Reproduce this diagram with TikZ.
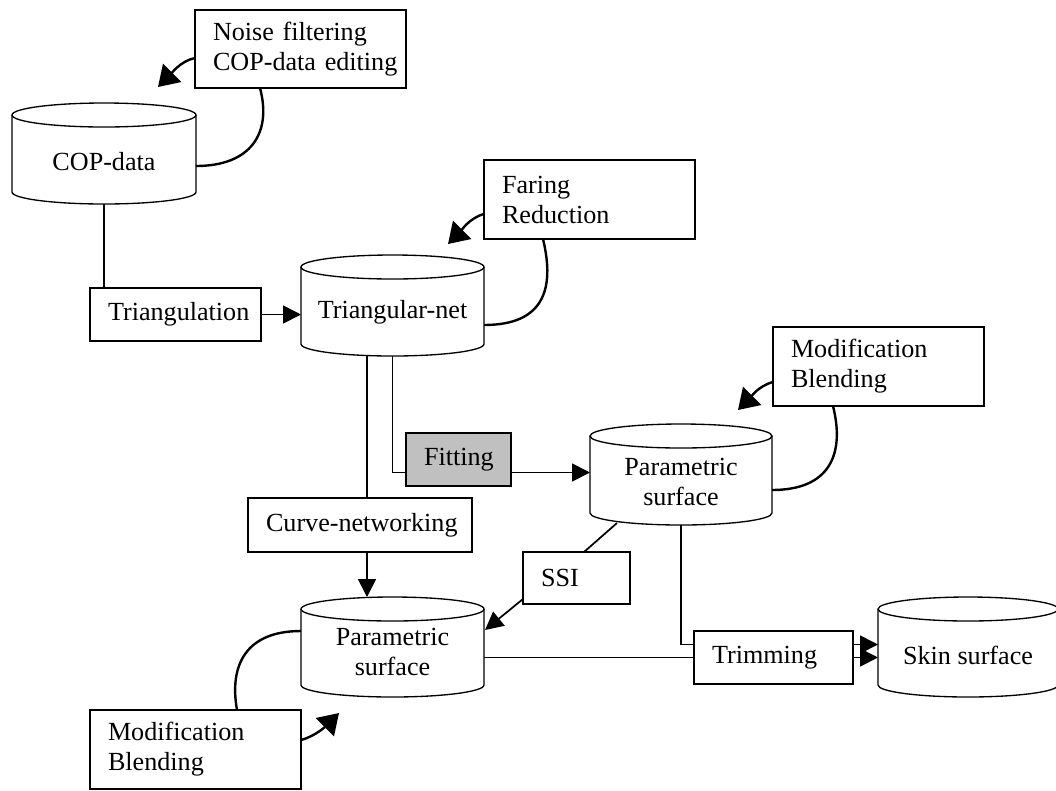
\documentclass[tikz,border=0pt]{standalone}
\usepackage{fontspec}
\setmainfont{Liberation Serif}
\usetikzlibrary{arrows.meta,calc}
\newcommand\drumshape[5]{%
  \node[drumbox, minimum width={(#4-#2)*0.75pt}, minimum height={(#5-#3)*0.75pt}] (#1) at ({(#2+#4)/2},{(#3+#5)/2}) {};
  \draw[drumline] ([yshift=-9pt]#1.north west) -- ([yshift=9pt]#1.south west) arc[start angle=180,end angle=360,x radius={(#4-#2)*0.375pt},y radius=9pt] -- ([yshift=-9pt]#1.north east);
  \draw[drumline] ([yshift=-9pt]#1.north) ellipse[x radius={(#4-#2)*0.375pt},y radius=9pt];
}
\tikzset{
  procbox/.style={draw, line width=1.2pt, anchor=north west, inner xsep=13.5pt, inner ysep=0pt, outer sep=0pt, align=left},
  drumbox/.style={rectangle, draw=none, inner sep=0pt, outer sep=0pt},
  drumline/.style={line width=1pt},
  drumtext/.style={align=center, inner sep=0pt},
  link/.style={line width=1.3pt},
  arr/.style={line width=1.3pt, -{Triangle[length=13.5pt,width=13.5pt]}},
  carr/.style={line width=1.8pt, -{Triangle[length=15pt,width=19pt]}},
  loopline/.style={line width=1.8pt},
}
\begin{document}
\begin{tikzpicture}[x=0.75pt, y=-0.75pt, font=\fontsize{19.6}{22.5}\selectfont]
\useasboundingbox (0,0) rectangle (1056,790);

% ---- cylinders
\drumshape{cop}{12}{103}{196}{204}
\drumshape{tnet}{301}{255}{484}{356}
\drumshape{param1}{590}{424}{772}{525}
\drumshape{param2}{301}{597}{484}{697}
\drumshape{skin}{878}{597}{1058}{697}
\node[drumtext] (copT) at ($(cop.center)+(0,8)$) {COP-data};
\node[drumtext] (tnetT) at ($(tnet.center)+(0,7)$) {Triangular-net};
\node[drumtext] (param1T) at ($(param1.center)+(0,7)$) {Parametric\\surface};
\node[drumtext] (param2T) at ($(param2.center)+(0,5)$) {Parametric\\surface};
\node[drumtext] (skinT) at ($(skin.center)+(0,8)$) {Skin surface};

% ---- process boxes
\node[procbox, text width=131.25pt, minimum height=58.5pt] (noise) at (195,10) {\mbox{Noise filtering}\\\mbox{COP-data editing}};
\node[procbox, text width=131.25pt, minimum height=59.25pt] (faring) at (484,160) {Faring\\Reduction};
\node[procbox, text width=131.25pt, minimum height=59.25pt] (modt) at (773,327) {Modification\\Blending};
\node[procbox, text width=131.25pt, minimum height=59.25pt] (modb) at (90,710) {Modification\\Blending};
\node[procbox, text width=101.25pt, minimum height=39.75pt] (triang) at (90,288) {Triangulation};
\node[procbox, fill={rgb,255:red,192;green,192;blue,192}, text width=51.75pt, minimum height=39.75pt] (fit) at (406,433) {\mbox{Fitting}};
\node[procbox, text width=141pt, minimum height=40.5pt] (cn) at (248,498) {\mbox{Curve-networking}};
\node[procbox, text width=53.25pt, minimum height=39pt] (ssi) at (523,552) {SSI};
\node[procbox, text width=92.25pt, minimum height=39.75pt] (trim) at (694,631) {Trimming};

% ---- free arrow tips
\coordinate (tipA) at (158,87);
\coordinate (tipB) at (448,244);
\coordinate (tipC) at (738,410);
\coordinate (tipD) at (339,713);

% ---- noise filtering loop
\draw[carr] ($(noise.west)+(0,9)$) .. controls +(-15,3) and +(12,-12) .. (tipA);
\draw[loopline] ($(noise.south)+(-40.5,0)$) .. controls +(12,45) and +(55,0) .. ($(cop.east)+(0,12.5)$);

% ---- cop -> triangulation -> triangular net
\draw[link] (cop.south) -- (cop.south |- triang.north);
\draw[arr] (triang.east) -- (triang.east -| tnet.west);

% ---- faring loop
\draw[carr] ($(faring.west)+(0,14.5)$) .. controls +(-15,4) and +(12,-12) .. (tipB);
\draw[loopline] ($(faring.south)+(-46.5,0)$) .. controls +(12,50) and +(60,0) .. ($(tnet.east)+(0,19.5)$);

% ---- triangular net -> curve networking -> parametric surface 2
\coordinate (cnTop) at ($(tnet.south)+(-25.5,0)$);
\draw[link] (cnTop) -- (cnTop |- cn.north);
\draw[arr] (cnTop |- cn.south) -- (cnTop |- param2.north);

% ---- triangular net -> fitting -> parametric surface 1
\coordinate (fitL) at ($(fit.west)+(0,13)$);
\coordinate (fitR) at ($(fit.east)+(0,13)$);
\draw[link] (tnet.south) |- (fitL);
\draw[arr] (fitR) -- (fitR -| param1.west);

% ---- modification loop (top)
\draw[carr] ($(modt.west)+(0,15.5)$) .. controls +(-15,4) and +(12,-12) .. (tipC);
\draw[loopline] ($(modt.south)+(-45.5,0)$) .. controls +(12,48) and +(58,0) .. ($(param1.east)+(0,15.5)$);

% ---- SSI
\draw[link] ($(param1.south)+(-64,-2)$) -- ($(ssi.north)+(7.5,0)$);
\draw[arr] ($(ssi.west)+(0,21)$) -- ($(param2.east)+(1,-17)$);

% ---- trimming
\coordinate (trimUp) at ($(trim.west)+(0,-13)$);
\draw[link] (param1.south) |- (trimUp);
\draw[link] (param2.east |- trim.west) -- (trim.west);
\coordinate (trimR1) at ($(trim.east)+(0,-13)$);
\draw[arr] (trimR1) -- (trimR1 -| skin.west);
\draw[arr] (trim.east) -- (trim.east -| skin.west);

% ---- modification loop (bottom)
\draw[carr] ($(modb.east)+(0,-9.5)$) .. controls +(15,-4) and +(-12,12) .. (tipD);
\draw[loopline] ($(modb.north)+(41.5,0)$) .. controls +(-8,-45) and +(-55,0) .. ($(param2.west)+(0,-16)$);
\end{tikzpicture}
\end{document}
